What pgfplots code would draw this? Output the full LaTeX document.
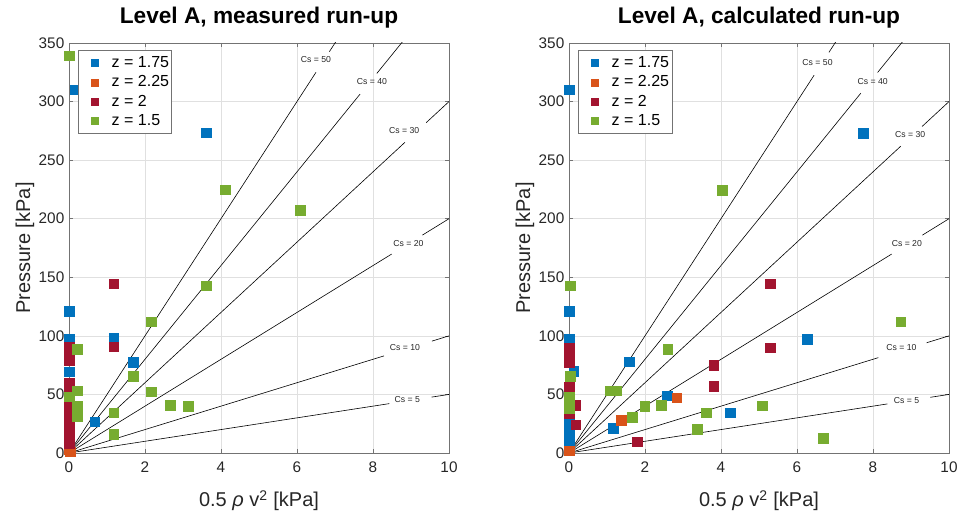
\documentclass[border=0pt]{standalone}
\usepackage{fontspec}
\setmainfont{Liberation Sans}
\usepackage{pgfplots}
\pgfplotsset{compat=1.18}
\definecolor{mblue}{RGB}{0,114,189}
\definecolor{morange}{RGB}{217,83,25}
\definecolor{mred}{RGB}{162,20,47}
\definecolor{mgreen}{RGB}{119,172,48}
\tikzset{cslab/.style={font=\fontsize{6.5}{7}\selectfont, text=black!85, inner sep=0pt}}
\pgfplotsset{
  myaxis/.style={
    scale only axis, width=285pt, height=307.5pt,
    xmin=0, xmax=10, ymin=0, ymax=350,
    xtick={0,2,...,10}, ytick={0,50,...,350},
    grid=major, major grid style={black!12, line width=0.4pt},
    axis line style={black!55, line width=0.6pt},
    tick style={black!55, line width=0.5pt},
    tick align=inside, major tick length=3pt,
    /pgf/number format/assume math mode=true,
    ticklabel style={font=\fontsize{11.5}{13}\selectfont, text=black!85},
    xticklabel style={yshift=-3pt},
    title style={at={(axis description cs:0.5,1)}, anchor=base, yshift=8.5pt, font=\bfseries\fontsize{17}{19}\selectfont},
    xlabel style={at={(axis description cs:0.5,0)}, anchor=base, yshift=-40.5pt, font=\fontsize{15}{18}\selectfont, text=black!85},
    ylabel style={at={(axis description cs:-0.1026,0.5)}, anchor=base, font=\fontsize{15}{18}\selectfont, text=black!85},
    xlabel={0.5 \textit{ρ} v\textsuperscript{2} [kPa]},
    ylabel={Pressure [kPa]},
    legend style={at={(axis description cs:0.024,0.982)}, anchor=north west, draw=black!55, fill=white,
      font=\fontsize{12}{14.25}\selectfont, row sep=0.6pt, inner xsep=0pt, inner ysep=2.5pt},
    legend cell align=left,
    legend image code/.code={\path[draw=none, fill=none] (-12pt,0) -- (11pt,0); \draw[#1, mark size=2.6pt] plot coordinates {(0,0)};},
  },
  pts/.style={only marks, mark=square*, mark size=3.6pt, color=#1, mark options={color=#1, fill=#1}},
  csline/.style={black, line width=0.45pt, forget plot},
}
\begin{document}
\begin{tikzpicture}
\useasboundingbox (0,0) rectangle (720pt,385.5pt);
\begin{axis}[myaxis, at={(51.75pt,45.75pt)}, anchor=south west, title={Level A, measured run-up}]
\addplot[csline] coordinates {(0,0) (6.5,325)};
\addplot[csline] coordinates {(6.85,342.5) (10,500)};
\addplot[csline] coordinates {(0,0) (7.66,306.4)};
\addplot[csline] coordinates {(8.1,324) (10,400)};
\addplot[csline] coordinates {(0,0) (8.84,265.2)};
\addplot[csline] coordinates {(9.4,282) (10,300)};
\addplot[csline] coordinates {(0,0) (8.49,169.8)};
\addplot[csline] coordinates {(9.3,186) (10,200)};
\addplot[csline] coordinates {(0,0) (8.29,82.9)};
\addplot[csline] coordinates {(9.55,95.5) (10,100)};
\addplot[csline] coordinates {(0,0) (8.43,42.15)};
\addplot[csline] coordinates {(9.54,47.7) (10,50)};
\node[cslab] at (axis cs:6.5,336) {Cs = 50};
\node[cslab] at (axis cs:7.97,317) {Cs = 40};
\node[cslab] at (axis cs:8.82,275) {Cs = 30};
\node[cslab] at (axis cs:8.93,179) {Cs = 20};
\node[cslab] at (axis cs:8.84,90) {Cs = 10};
\node[cslab] at (axis cs:8.9,46) {Cs = 5};
\addplot[pts=mblue] coordinates {(0.16,310) (3.62,273.5) (0,121) (0,97) (0,69.4) (1.18,98) (1.69,77.4) (0.68,26.7)};
\addlegendentry{z = 1.75}
\addplot[pts=morange] coordinates {(0,3) (0.03,1)};
\addlegendentry{z = 2.25}
\addplot[pts=mred] coordinates {(1.18,144.3) (1.18,90.8) (0,90.7) (0,83.5) (0,79) (0,59.5) (0,55) (0,50) (0,45) (0,40) (0,35) (0,30) (0,25) (0,20) (0,15) (0,11) (0,8)};
\addlegendentry{z = 2}
\addplot[pts=mgreen] coordinates {(0,339) (0.22,88.5) (0.22,53) (0.22,40) (0.22,31) (0,48) (1.18,34.4) (1.18,16.2) (1.69,65.7) (2.17,112) (2.17,52.4) (2.66,40.7) (3.14,40) (3.62,142.6) (4.11,224.8) (6.08,207)};
\addlegendentry{z = 1.5}
\end{axis}
\begin{axis}[myaxis, at={(426.75pt,45.75pt)}, anchor=south west, title={Level A, calculated run-up}]
\addplot[csline] coordinates {(0,0) (6.45,322.5)};
\addplot[csline] coordinates {(6.84,342) (10,500)};
\addplot[csline] coordinates {(0,0) (7.68,307.2)};
\addplot[csline] coordinates {(8.12,324.8) (10,400)};
\addplot[csline] coordinates {(0,0) (8.73,261.9)};
\addplot[csline] coordinates {(9.29,278.7) (10,300)};
\addplot[csline] coordinates {(0,0) (8.49,169.8)};
\addplot[csline] coordinates {(9.3,186) (10,200)};
\addplot[csline] coordinates {(0,0) (8.14,81.4)};
\addplot[csline] coordinates {(9.41,94.1) (10,100)};
\addplot[csline] coordinates {(0,0) (8.38,41.9)};
\addplot[csline] coordinates {(9.51,47.55) (10,50)};
\node[cslab] at (axis cs:6.54,333) {Cs = 50};
\node[cslab] at (axis cs:7.99,317) {Cs = 40};
\node[cslab] at (axis cs:8.98,272) {Cs = 30};
\node[cslab] at (axis cs:8.89,179) {Cs = 20};
\node[cslab] at (axis cs:8.75,90) {Cs = 10};
\node[cslab] at (axis cs:8.88,44.4) {Cs = 5};
\addplot[pts=mblue] coordinates {(0,310) (0,121) (0,97) (0.13,70) (0,28) (0,22) (0,16) (0,10) (0,5) (1.17,21) (1.59,78) (2.59,48.7) (4.25,34.4) (7.75,273) (6.27,97)};
\addlegendentry{z = 1.75}
\addplot[pts=morange] coordinates {(0,2) (1.37,28) (2.84,47)};
\addlegendentry{z = 2.25}
\addplot[pts=mred] coordinates {(0,90) (0,81) (0,77) (0,56.6) (0.18,40.7) (0,34) (0.18,24) (1.79,9.7) (3.81,75) (3.81,57) (5.3,144.3) (5.3,90)};
\addlegendentry{z = 2}
\addplot[pts=mgreen] coordinates {(0.04,142.6) (0.04,65.7) (0,48) (0,43) (0,38) (1.08,53) (1.26,53) (1.67,30.5) (1.99,40) (2.43,41) (2.6,88.5) (3.37,20.5) (3.61,34.4) (4.03,224.5) (5.08,40.4) (6.69,12.5) (8.73,112)};
\addlegendentry{z = 1.5}
\end{axis}
\end{tikzpicture}
\end{document}
